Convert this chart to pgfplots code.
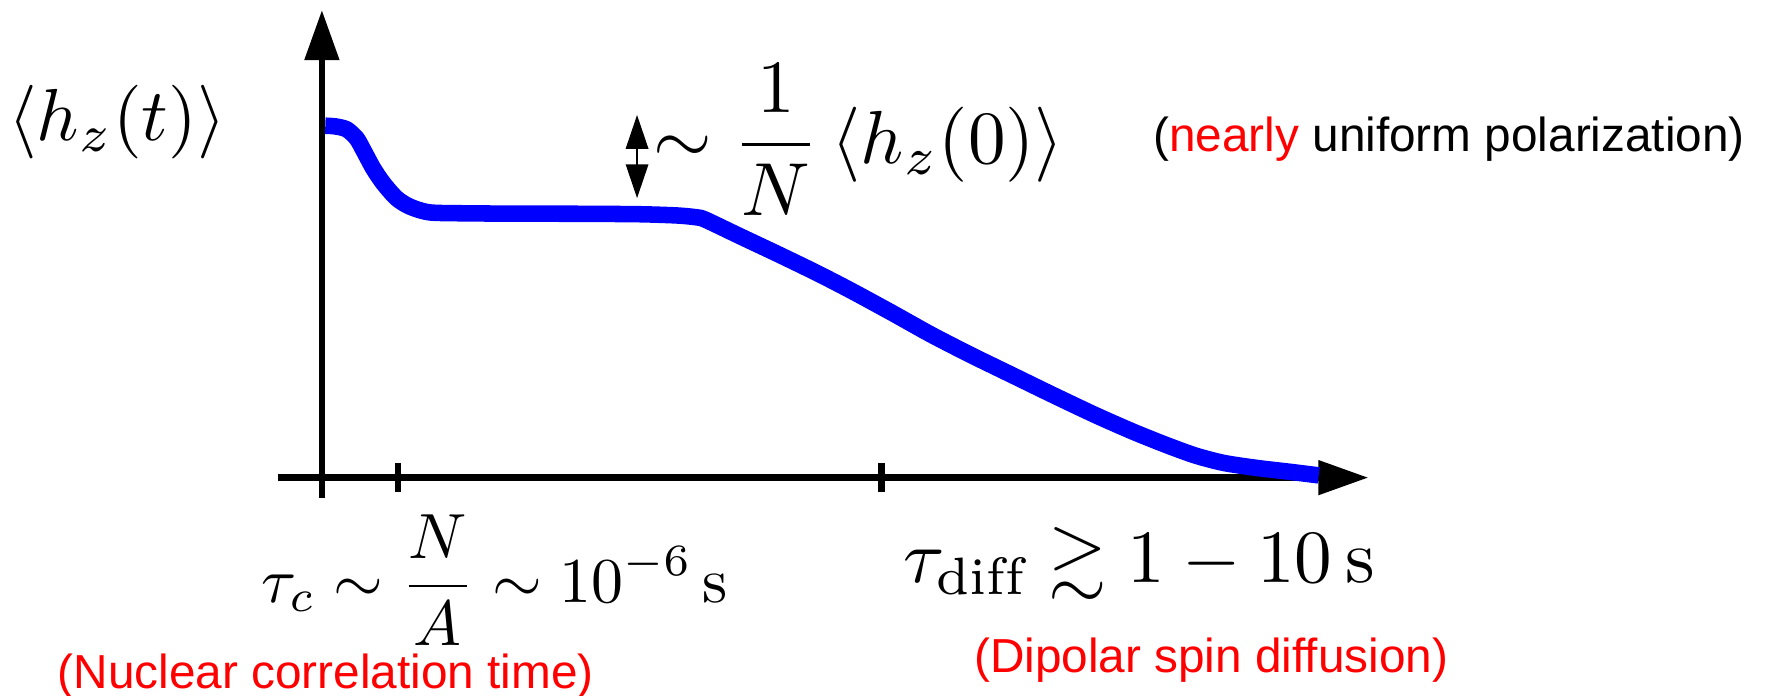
\documentclass[border=0pt]{standalone}
\usepackage{amssymb}
\usepackage{fontspec}
\newfontfamily\labelsans{Liberation Sans}
\usepackage{pgfplots}
\pgfplotsset{compat=1.18}
\usetikzlibrary{arrows.meta}

% decay of the nuclear polarisation: fast drop, plateau, slow diffusion
\pgfplotstableread{
t     h
3     312.1
12    311.5
22    308.9
30.8  300.9
36.7  290.6
45.5  274.3
54.5  261.0
66.3  247.7
78.1  240.3
95.8  235.2
130   234.4
175.5 234.1
230   234.0
282   233.6
315   232.5
332   230.9
340   228.8
370   214.5
406   197.5
440   181.0
470   165.5
505   146.5
540   127.0
575   109.0
613   90.5
650   72.5
687   55.0
720   40.5
750   28.5
775   19.5
800   13.0
830   8.5
860   5.0
884   2.0
}\hzdata

\begin{document}
\begin{tikzpicture}
\begin{axis}[
  x=0.15pt, y=0.15pt,
  xmin=-38.5, xmax=928, ymin=-18, ymax=414.7,
  axis lines=middle,
  enlargelimits=false,
  clip=false,
  axis line style={line width=0.9pt, black},
  every inner x axis line/.append style={-{Triangle[length=6.65pt,width=4.44pt]}},
  every inner y axis line/.append style={-{Triangle[length=6.65pt,width=4.44pt]}},
  xtick={67.5,496}, xticklabels={,}, ytick=\empty,
  major tick length=3.8pt,
  tick style={line width=0.9pt, black},
]
\addplot[blue, line width=2.2pt, smooth, tension=0.45, no markers] table[x=t, y=h] {\hzdata};

% size of the plateau
\draw[line width=0.2pt,
  {Triangle[length=4.5pt,width=3pt]}-{Triangle[length=4.5pt,width=3pt]}]
  (axis cs:279.5,321.6) -- (axis cs:279.5,247.9);

\node[anchor=base west, inner sep=0, scale=0.98] at (axis cs:-279.5,299.1)
  {$\langle h_z(t)\rangle$};
\node[anchor=base west, inner sep=0] at (axis cs:292.5,278.6)
  {$\displaystyle\sim\frac{1}{N}\,\langle h_z(0)\rangle$};
\node[anchor=base west, inner sep=0, font={\labelsans\fontsize{6.35pt}{7.6pt}\selectfont}]
  at (axis cs:736,289.6) {(\textcolor{red}{nearly} uniform polarization)};

\node[anchor=base west, inner sep=0, scale=0.85] at (axis cs:-54.5,-110.4)
  {$\displaystyle\tau_c\sim\frac{N}{A}\sim 10^{-6}\,\mathrm{s}$};
\node[anchor=base west, inner sep=0] at (axis cs:514.5,-93.4)
  {$\tau_{\mathrm{diff}}\gtrsim 1-10\,\mathrm{s}$};

\node[anchor=base west, inner sep=0, text=red, font={\labelsans\fontsize{6.35pt}{7.6pt}\selectfont}]
  at (axis cs:-235.5,-187.4) {(Nuclear correlation time)};
\node[anchor=base west, inner sep=0, text=red, font={\labelsans\fontsize{6.35pt}{7.6pt}\selectfont}]
  at (axis cs:577.1,-172.4) {(Dipolar spin diffusion)};

\coordinate (bbsw) at (axis cs:-285.5,-193.4);
\coordinate (bbne) at (axis cs:1282.5,423.6);
\end{axis}
\pgfresetboundingbox
\path[use as bounding box] (bbsw) rectangle (bbne);
\end{tikzpicture}
\end{document}
